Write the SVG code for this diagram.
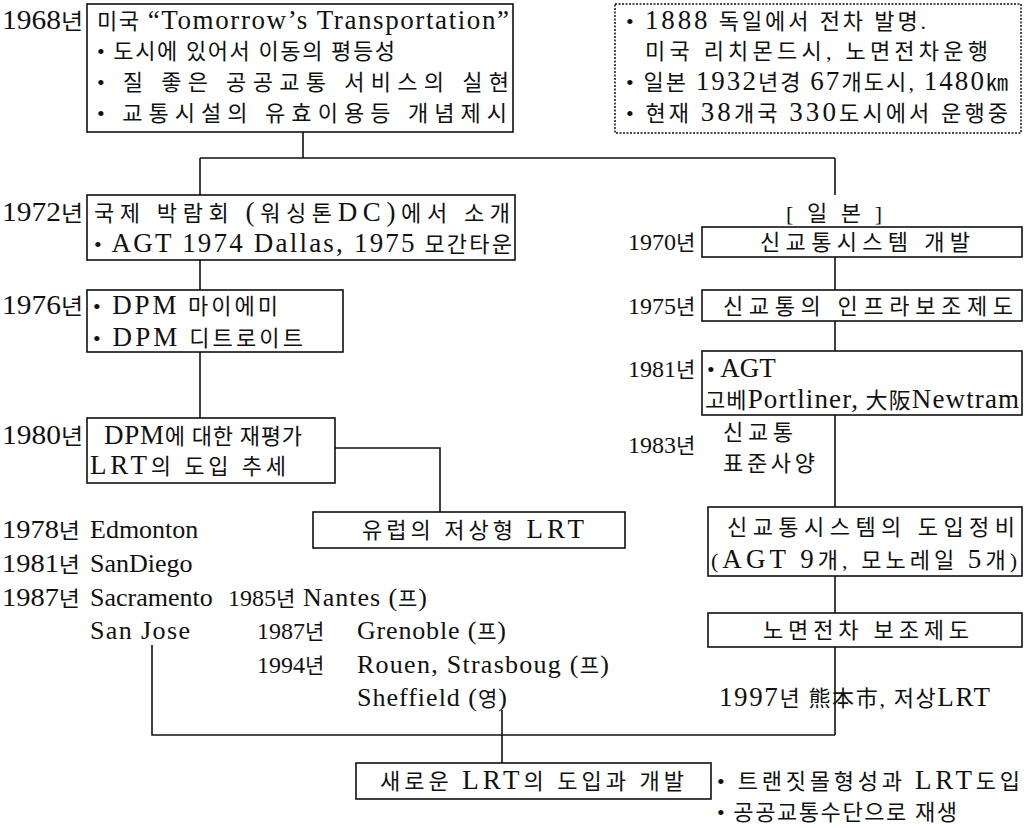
<svg xmlns="http://www.w3.org/2000/svg" width="1029" height="828" viewBox="0 0 1029 828">
<style>
text{font-family:"Liberation Serif","Noto Sans CJK KR",serif;font-size:22px;fill:#111}
.e{font-size:27px}
.s{font-size:21px}
.s .e,.n{font-size:26px}
.r{font-size:21px}
.r .e{font-size:24px}
.box{fill:#fff;stroke:#111;stroke-width:1.6}
.dot{fill:#fff;stroke:#111;stroke-width:1.5;stroke-dasharray:2 1.5}
.ln{fill:none;stroke:#111;stroke-width:1.6}
</style>
<rect width="1029" height="828" fill="#fff"/>
<g id="connectors">
<path class="ln" d="M303 132V158M200 158H835M200 158V195M835 158V195"/>
<path class="ln" d="M200 260V290M200 352V418"/>
<path class="ln" d="M335 448H440V512"/>
<path class="ln" d="M835 257V290M835 321V351M835 415V507M835 576V613M835 647V735"/>
<path class="ln" d="M152 645V735H835M502 710V763"/>
</g>
<g id="n1968">
<text x="2" y="29" textLength="81" lengthAdjust="spacingAndGlyphs"><tspan class="e">1968</tspan>년</text>
<rect class="box" x="87" y="4" width="426" height="128"/>
<text x="97" y="29" textLength="412">미국 <tspan class="e">“Tomorrow’s Transportation”</tspan></text>
<text x="97" y="59" textLength="298">• 도시에 있어서 이동의 평등성</text>
<text x="97" y="90" textLength="412">• 질 좋은 공공교통 서비스의 실현</text>
<text x="97" y="121" textLength="410">• 교통시설의 유효이용등 개념제시</text>
</g>
<g id="history">
<rect class="dot" x="615" y="4" width="406" height="129"/>
<text x="626" y="29" textLength="300">• <tspan class="e">1888</tspan> 독일에서 전차 발명.</text>
<text x="645" y="59" textLength="343">미국 리치몬드시, 노면전차운행</text>
<text x="626" y="90" textLength="382">• 일본 <tspan class="e">1932</tspan>년경 <tspan class="e">67</tspan>개도시, <tspan class="e">1480</tspan>㎞</text>
<text x="626" y="121" textLength="382">• 현재 <tspan class="e">38</tspan>개국 <tspan class="e">330</tspan>도시에서 운행중</text>
</g>
<g id="n1972">
<text x="2" y="221" textLength="81" lengthAdjust="spacingAndGlyphs"><tspan class="e">1972</tspan>년</text>
<rect class="box" x="87" y="195" width="428" height="65"/>
<text x="94" y="221" textLength="416">국제 박람회 <tspan class="e">(</tspan>워싱톤<tspan class="e">DC)</tspan>에서 소개</text>
<text x="94" y="252" textLength="418">• <tspan class="e">AGT 1974 Dallas, 1975</tspan> 모간타운</text>
</g>
<g id="n1976">
<text x="2" y="314" textLength="81" lengthAdjust="spacingAndGlyphs"><tspan class="e">1976</tspan>년</text>
<rect class="box" x="87" y="290" width="256" height="62"/>
<text x="93" y="314" textLength="185">• <tspan class="e">DPM</tspan> 마이에미</text>
<text x="93" y="346" textLength="210">• <tspan class="e">DPM</tspan> 디트로이트</text>
</g>
<g id="n1980">
<text x="2" y="444" textLength="81" lengthAdjust="spacingAndGlyphs"><tspan class="e">1980</tspan>년</text>
<rect class="box" x="87" y="418" width="248" height="65"/>
<text x="104" y="444" textLength="198"><tspan class="e">DPM</tspan>에 대한 재평가</text>
<text x="90" y="474" textLength="196"><tspan class="e">LRT</tspan>의 도입 추세</text>
</g>
<g id="europe">
<rect class="box" x="313" y="512" width="312" height="36"/>
<text x="362" y="538" textLength="222">유럽의 저상형 <tspan class="e">LRT</tspan></text>
</g>
<g id="usa">
<text class="s" x="2" y="538" textLength="78" lengthAdjust="spacingAndGlyphs"><tspan class="e">1978</tspan>년</text>
<text class="n" x="90" y="538">Edmonton</text>
<text class="s" x="2" y="572" textLength="78" lengthAdjust="spacingAndGlyphs"><tspan class="e">1981</tspan>년</text>
<text class="n" x="90" y="572">SanDiego</text>
<text class="s" x="2" y="606" textLength="78" lengthAdjust="spacingAndGlyphs"><tspan class="e">1987</tspan>년</text>
<text class="n" x="90" y="606">Sacramento</text>
<text class="n" x="90" y="639" textLength="100">San Jose</text>
</g>
<g id="europe-list">
<text class="r" x="228" y="606"><tspan class="e">1985</tspan>년</text>
<text class="s" x="303" y="606" textLength="124"><tspan class="e">Nantes (</tspan>프<tspan class="e">)</tspan></text>
<text class="r" x="257" y="639"><tspan class="e">1987</tspan>년</text>
<text class="s" x="357" y="639" textLength="149"><tspan class="e">Grenoble (</tspan>프<tspan class="e">)</tspan></text>
<text class="r" x="257" y="673"><tspan class="e">1994</tspan>년</text>
<text class="s" x="357" y="673" textLength="252"><tspan class="e">Rouen, Strasboug (</tspan>프<tspan class="e">)</tspan></text>
<text class="s" x="357" y="706" textLength="150"><tspan class="e">Sheffield (</tspan>영<tspan class="e">)</tspan></text>
</g>
<g id="japan">
<text x="786" y="221" textLength="96">[ 일  본 ]</text>
</g>
<g id="n1970">
<text class="r" x="628" y="250"><tspan class="e">1970</tspan>년</text>
<rect class="box" x="702" y="227" width="320" height="30"/>
<text x="760" y="250" textLength="210">신교통시스템 개발</text>
</g>
<g id="n1975">
<text class="r" x="628" y="314"><tspan class="e">1975</tspan>년</text>
<rect class="box" x="702" y="290" width="320" height="31"/>
<text x="723" y="314" textLength="290">신교통의 인프라보조제도</text>
</g>
<g id="n1981">
<text class="r" x="628" y="377"><tspan class="e">1981</tspan>년</text>
<rect class="box" x="702" y="351" width="320" height="64"/>
<text x="707" y="377">• <tspan class="e">AGT</tspan></text>
<text x="705" y="408" textLength="314">고베<tspan class="e">Portliner,</tspan> 大阪<tspan class="e">Newtram</tspan></text>
</g>
<g id="n1983">
<text class="r" x="628" y="453"><tspan class="e">1983</tspan>년</text>
<text x="723" y="440" textLength="70">신교통</text>
<text x="723" y="471" textLength="92">표준사양</text>
</g>
<g id="intro">
<rect class="box" x="708" y="507" width="314" height="69"/>
<text x="727" y="535" textLength="288">신교통시스템의 도입정비</text>
<text x="711" y="568" textLength="306">(<tspan class="e">AGT 9</tspan>개, 모노레일 <tspan class="e">5</tspan>개)</text>
</g>
<g id="tram">
<rect class="box" x="708" y="613" width="314" height="34"/>
<text x="763" y="638" textLength="206">노면전차 보조제도</text>
</g>
<g id="n1997">
<text x="719" y="706" textLength="271"><tspan class="e">1997</tspan>년 熊本市, 저상<tspan class="e">LRT</tspan></text>
</g>
<g id="newlrt">
<rect class="box" x="356" y="763" width="355" height="36"/>
<text x="380" y="789" textLength="304">새로운 <tspan class="e">LRT</tspan>의 도입과 개발</text>
<text x="717" y="789" textLength="303">• 트랜짓몰형성과 <tspan class="e">LRT</tspan>도입</text>
<text x="717" y="820" textLength="240">• 공공교통수단으로 재생</text>
</g>
</svg>
